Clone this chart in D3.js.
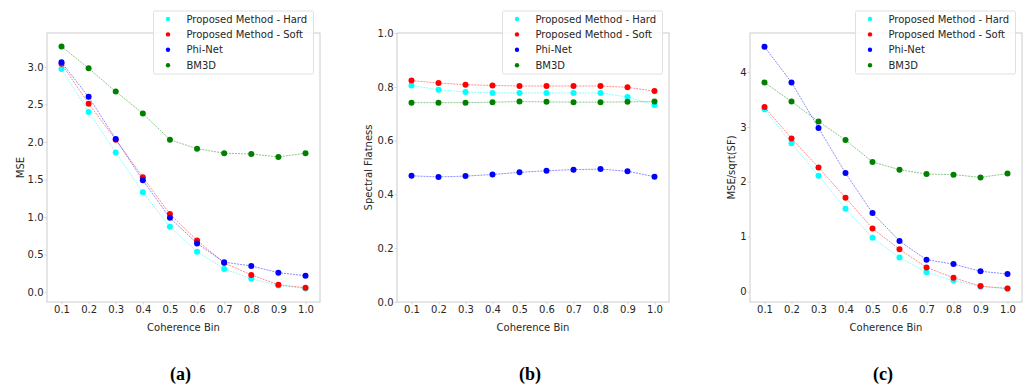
<!DOCTYPE html>
<html>
<head>
<meta charset="utf-8">
<script src="https://cdn.jsdelivr.net/npm/d3@7"></script>
<style>
  html, body { margin: 0; padding: 0; background: #fff; }
  svg { display: block; }
  .tick text { font-family: "DejaVu Sans", sans-serif; font-size: 10px; fill: #262626; }
</style>
</head>
<body>
<svg id="chart" width="1030" height="390"></svg>
<script>
// Coherence bins shared by all three panels
const bins = [0.1, 0.2, 0.3, 0.4, 0.5, 0.6, 0.7, 0.8, 0.9, 1.0];
const xTickLabels = ["0.1", "0.2", "0.3", "0.4", "0.5", "0.6", "0.7", "0.8", "0.9", "1.0"];

const seriesNames = ["Proposed Method - Hard", "Proposed Method - Soft", "Phi-Net", "BM3D"];
const seriesColors = ["#00ffff", "#ff0000", "#0000ff", "#008000"];

// (a) MSE
const mseHard = [2.97, 2.40, 1.86, 1.33, 0.87, 0.54, 0.31, 0.18, 0.09, 0.05];
const mseSoft = [3.04, 2.51, 2.03, 1.53, 1.04, 0.69, 0.39, 0.23, 0.10, 0.06];
const msePhi  = [3.06, 2.60, 2.04, 1.49, 0.99, 0.65, 0.40, 0.35, 0.26, 0.22];
const mseBm3d = [3.27, 2.98, 2.67, 2.38, 2.03, 1.91, 1.85, 1.84, 1.80, 1.85];
const mseTicks = [0.0, 0.5, 1.0, 1.5, 2.0, 2.5, 3.0];

// (b) Spectral flatness
const sfHard = [0.805, 0.789, 0.781, 0.777, 0.777, 0.777, 0.777, 0.777, 0.762, 0.732];
const sfSoft = [0.823, 0.814, 0.808, 0.805, 0.803, 0.803, 0.803, 0.803, 0.798, 0.784];
const sfPhi  = [0.469, 0.465, 0.468, 0.474, 0.482, 0.488, 0.492, 0.494, 0.486, 0.466];
const sfBm3d = [0.741, 0.741, 0.741, 0.743, 0.745, 0.744, 0.743, 0.743, 0.744, 0.745];
const sfTicks = [0.0, 0.2, 0.4, 0.6, 0.8, 1.0];

// (c) MSE / sqrt(SF)
const ratioHard = [3.32, 2.70, 2.11, 1.51, 0.98, 0.62, 0.35, 0.20, 0.09, 0.055];
const ratioSoft = [3.36, 2.79, 2.26, 1.71, 1.15, 0.77, 0.44, 0.25, 0.10, 0.055];
const ratioPhi  = [4.46, 3.81, 2.98, 2.16, 1.43, 0.92, 0.58, 0.50, 0.37, 0.32];
const ratioBm3d = [3.81, 3.46, 3.10, 2.76, 2.36, 2.22, 2.14, 2.13, 2.08, 2.15];
const ratioTicks = [0, 1, 2, 3, 4];

const panels = [
  { left: 47,  right: 320,  yLabel: "MSE", yLabelX: 20, yDomain: [-0.13, 3.45], yTicks: mseTicks,
    fmt: d3.format(".1f"), series: [mseHard, mseSoft, msePhi, mseBm3d], tag: "(a)" },
  { left: 397, right: 669,  yLabel: "Spectral Flatness", yLabelX: 368, yDomain: [0, 1], yTicks: sfTicks,
    fmt: d3.format(".1f"), series: [sfHard, sfSoft, sfPhi, sfBm3d], tag: "(b)" },
  { left: 750, right: 1022, yLabel: "MSE/sqrt(SF)", yLabelX: 731.5, yDomain: [-0.19, 4.71], yTicks: ratioTicks,
    fmt: d3.format("d"), series: [ratioHard, ratioSoft, ratioPhi, ratioBm3d], tag: "(c)" }
];

const plotTop = 33, plotBottom = 302;
const svg = d3.select("#chart");
const frameColor = "#cccccc";
const textColor = "#262626";

panels.forEach(p => {
  const g = svg.append("g");
  const x = d3.scaleLinear().domain([0.1, 1.0]).range([p.left + 14.5, p.right - 14.5]);
  const y = d3.scaleLinear().domain(p.yDomain).range([plotBottom, plotTop]);

  // axes
  const xAxis = d3.axisBottom(x).tickValues(bins)
    .tickFormat((d, i) => xTickLabels[i]).tickSize(2.5).tickPadding(1.5);
  const gx = g.append("g").attr("transform", `translate(0,${plotBottom})`).call(xAxis);
  const yAxis = d3.axisLeft(y).tickValues(p.yTicks).tickFormat(p.fmt).tickSize(2.5).tickPadding(1);
  const gy = g.append("g").attr("transform", `translate(${p.left},0)`).call(yAxis);
  [gx, gy].forEach(a => {
    a.select(".domain").remove();
    a.selectAll(".tick line").attr("stroke", frameColor).attr("stroke-width", 0.8);
  });

  // frame
  g.append("rect")
    .attr("x", p.left).attr("y", plotTop)
    .attr("width", p.right - p.left).attr("height", plotBottom - plotTop)
    .attr("fill", "none").attr("stroke", frameColor).attr("stroke-width", 1);

  // series lines and markers
  const line = d3.line().x((d, i) => x(bins[i])).y(d => y(d));
  p.series.forEach((vals, si) => {
    g.append("path").datum(vals)
      .attr("d", line)
      .attr("fill", "none")
      .attr("stroke", seriesColors[si])
      .attr("stroke-width", 1)
      .attr("stroke-opacity", 0.45)
      .attr("stroke-dasharray", "2,1");
    g.selectAll(null).data(vals).enter().append("circle")
      .attr("cx", (d, i) => x(bins[i]))
      .attr("cy", d => y(d))
      .attr("r", 3)
      .attr("fill", seriesColors[si]);
  });

  // axis titles
  g.append("text")
    .attr("x", (p.left + p.right) / 2).attr("y", 331)
    .attr("text-anchor", "middle")
    .style("font-family", "DejaVu Sans, sans-serif").style("font-size", "10px").attr("fill", textColor)
    .text("Coherence Bin");
  g.append("text")
    .attr("transform", `translate(${p.yLabelX},${(plotTop + plotBottom) / 2}) rotate(-90)`)
    .attr("text-anchor", "middle").attr("dy", "0.35em")
    .style("font-family", "DejaVu Sans, sans-serif").style("font-size", "10px").attr("fill", textColor)
    .text(p.yLabel);

  // legend
  const lw = 160, lh = 63;
  const lx = p.right - 6.5 - lw, ly = 11;
  const lg = g.append("g");
  lg.append("rect")
    .attr("x", lx).attr("y", ly).attr("width", lw).attr("height", lh)
    .attr("rx", 1.5)
    .attr("fill", "#fff").attr("fill-opacity", 0.85)
    .attr("stroke", "#e0e0e0").attr("stroke-width", 1);
  seriesNames.forEach((name, si) => {
    const ry = ly + 8 + si * 15.4;
    lg.append("circle").attr("cx", lx + 14.5).attr("cy", ry).attr("r", 2.2).attr("fill", seriesColors[si]);
    lg.append("text")
      .attr("x", lx + 33).attr("y", ry).attr("dy", "0.35em")
      .style("font-family", "DejaVu Sans, sans-serif").style("font-size", "10px").attr("fill", textColor)
      .text(name);
  });

  // panel tag
  g.append("text")
    .attr("x", (p.left + p.right) / 2 - 3).attr("y", 380)
    .attr("text-anchor", "middle")
    .style("font-family", "Liberation Serif, DejaVu Serif, serif").style("font-size", "18px")
    .style("font-weight", "bold").attr("fill", "#000")
    .text(p.tag);
});
</script>
</body>
</html>
